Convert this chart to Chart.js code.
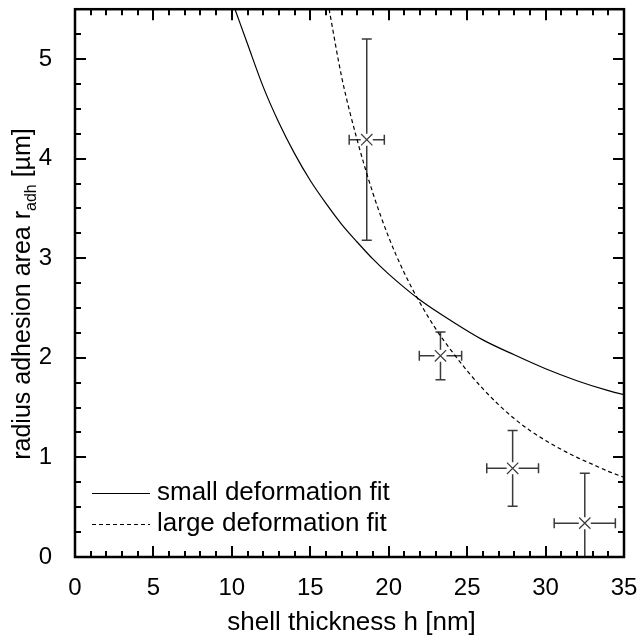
<!DOCTYPE html>
<html>
<head>
<meta charset="utf-8">
<script src="https://cdn.jsdelivr.net/npm/chart.js@4"></script>
<style>
  html, body { margin: 0; padding: 0; background: #fff; }
  #wrap { width: 639px; height: 643px; }
</style>
</head>
<body>
<div id="wrap"><canvas id="chart"></canvas></div>
<script>
// measured points with error bars
const thickness = [18.6, 23.3, 27.9, 32.5];
const radius = [4.19, 2.02, 0.89, 0.34];
const thicknessErr = [1.12, 1.35, 1.65, 1.95];
const radiusErr = [1.01, 0.24, 0.38, 0.5];

// fit curves
const smallFitH = [10.2, 11, 12, 13, 14, 15, 16, 17, 18, 19, 20, 22, 24, 26, 28, 30, 32, 34, 35];
const smallFitR = [5.5, 5.15, 4.72, 4.36, 4.05, 3.78, 3.55, 3.34, 3.16, 2.99, 2.84, 2.58, 2.37, 2.18, 2.03, 1.89, 1.77, 1.67, 1.63];
const largeFitH = [16.2, 17, 18, 19, 20, 21, 22, 23, 24, 25, 26, 27, 28, 29, 30, 31, 32, 33, 34, 35];
const largeFitR = [5.5, 4.82, 4.18, 3.65, 3.21, 2.85, 2.55, 2.29, 2.07, 1.87, 1.69, 1.53, 1.39, 1.27, 1.17, 1.08, 1.0, 0.93, 0.86, 0.8];

const legendLabels = ['small deformation fit', 'large deformation fit'];
const xTicks = [0, 5, 10, 15, 20, 25, 30, 35];
const yTicks = [0, 1, 2, 3, 4, 5];
const xMinorStep = 1;
const yMinorStep = 0.25;

const FONT = '"Liberation Sans", Arial, sans-serif';

const toXY = (xs, ys) => xs.map((v, i) => ({ x: v, y: ys[i] }));

const framePlugin = {
  id: 'frame',
  beforeDatasetsDraw(chart) {
    const { ctx, chartArea: a, scales: { x, y } } = chart;
    ctx.save();
    ctx.beginPath();
    ctx.rect(a.left, a.top, a.right - a.left, a.bottom - a.top);
    ctx.clip();
    ctx.strokeStyle = '#3a3a3a';
    ctx.lineWidth = 1.5;
    const gap = 6, cap = 5;
    thickness.forEach((h, i) => {
      const px = x.getPixelForValue(h);
      const py = y.getPixelForValue(radius[i]);
      const x0 = x.getPixelForValue(h - thicknessErr[i]);
      const x1 = x.getPixelForValue(h + thicknessErr[i]);
      const y0 = y.getPixelForValue(radius[i] - radiusErr[i]);
      const y1 = y.getPixelForValue(radius[i] + radiusErr[i]);
      ctx.beginPath();
      ctx.moveTo(x0, py); ctx.lineTo(px - gap, py);
      ctx.moveTo(px + gap, py); ctx.lineTo(x1, py);
      ctx.moveTo(x0, py - cap); ctx.lineTo(x0, py + cap);
      ctx.moveTo(x1, py - cap); ctx.lineTo(x1, py + cap);
      ctx.moveTo(px, y1); ctx.lineTo(px, py - gap);
      ctx.moveTo(px, py + gap); ctx.lineTo(px, y0);
      ctx.moveTo(px - cap, y0); ctx.lineTo(px + cap, y0);
      ctx.moveTo(px - cap, y1); ctx.lineTo(px + cap, y1);
      ctx.stroke();
    });
    ctx.restore();
  },
  afterDraw(chart) {
    const { ctx, chartArea: a, scales: { x, y } } = chart;
    ctx.save();
    ctx.strokeStyle = '#000';
    ctx.lineWidth = 2;
    ctx.beginPath();
    for (let v = x.min; v <= x.max + 1e-9; v += xMinorStep) {
      const px = Math.round(x.getPixelForValue(v));
      const len = xTicks.includes(v) ? 11 : 6;
      ctx.moveTo(px, a.bottom); ctx.lineTo(px, a.bottom - len);
      ctx.moveTo(px, a.top); ctx.lineTo(px, a.top + len);
    }
    for (let v = y.min; v <= y.max + 1e-9; v += yMinorStep) {
      const py = Math.round(y.getPixelForValue(v));
      const len = yTicks.includes(v) ? 11 : 6;
      ctx.moveTo(a.left, py); ctx.lineTo(a.left + len, py);
      ctx.moveTo(a.right, py); ctx.lineTo(a.right - len, py);
    }
    ctx.stroke();
    ctx.lineWidth = 2.5;
    ctx.strokeRect(a.left, a.top, a.right - a.left, a.bottom - a.top);

    // legend
    ctx.lineWidth = 1;
    ctx.fillStyle = '#000';
    ctx.font = '26px ' + FONT;
    ctx.textBaseline = 'middle';
    ctx.textAlign = 'left';
    const rows = [493, 524];
    chart.data.datasets.slice(0, 2).forEach((ds, i) => {
      ctx.setLineDash(ds.borderDash || []);
      ctx.beginPath();
      ctx.moveTo(92, rows[i] + 0.5); ctx.lineTo(150, rows[i] + 0.5);
      ctx.stroke();
      ctx.setLineDash([]);
      ctx.fillText(legendLabels[i], 157, rows[i]);
    });

    // x title
    ctx.textAlign = 'center';
    ctx.textBaseline = 'alphabetic';
    ctx.fillText('shell thickness h [nm]', (a.left + a.right) / 2 + 2, 630);

    // y title with subscript
    const p1 = 'radius adhesion area r', sub = 'adh', p2 = ' [\u00b5m]';
    ctx.font = '25px ' + FONT;
    const w1 = ctx.measureText(p1).width, w3 = ctx.measureText(p2).width;
    ctx.font = '16px ' + FONT;
    const w2 = ctx.measureText(sub).width;
    const total = w1 + w2 + w3;
    ctx.translate(30, 294);
    ctx.rotate(-Math.PI / 2);
    ctx.textAlign = 'left';
    let cx = -total / 2;
    ctx.font = '25px ' + FONT;
    ctx.fillText(p1, cx, 0);
    cx += w1;
    ctx.font = '16px ' + FONT;
    ctx.fillText(sub, cx, 6);
    cx += w2;
    ctx.font = '25px ' + FONT;
    ctx.fillText(p2, cx, 0);
    ctx.restore();
  }
};

new Chart(document.getElementById('chart'), {
  type: 'scatter',
  data: {
    datasets: [
      {
        label: legendLabels[0],
        type: 'line',
        data: toXY(smallFitH, smallFitR),
        borderColor: '#000',
        borderWidth: 1.2,
        pointRadius: 0,
        cubicInterpolationMode: 'monotone',
        fill: false
      },
      {
        label: legendLabels[1],
        type: 'line',
        data: toXY(largeFitH, largeFitR),
        borderColor: '#000',
        borderWidth: 1.2,
        borderDash: [4, 3],
        pointRadius: 0,
        cubicInterpolationMode: 'monotone',
        fill: false
      },
      {
        label: 'data',
        data: toXY(thickness, radius),
        pointStyle: 'crossRot',
        pointRadius: 8,
        pointBorderWidth: 1.2,
        borderColor: '#3a3a3a',
        backgroundColor: '#3a3a3a'
      }
    ]
  },
  plugins: [framePlugin],
  options: {
    responsive: true,
    maintainAspectRatio: false,
    animation: false,
    layout: { padding: { top: 7, right: 15, left: 0, bottom: 0 } },
    plugins: { legend: { display: false }, tooltip: { enabled: false } },
    scales: {
      x: {
        type: 'linear',
        min: 0,
        max: 35,
        grid: { display: false },
        border: { display: false },
        afterBuildTicks: s => { s.ticks = xTicks.map(v => ({ value: v })); },
        afterFit: s => { s.height = 86; s.paddingLeft = 0; s.paddingRight = 0; },
        ticks: { color: '#000', padding: 9, font: { family: FONT, size: 24 } }
      },
      y: {
        type: 'linear',
        min: 0,
        max: 5.5,
        grid: { display: false },
        border: { display: false },
        afterBuildTicks: s => { s.ticks = yTicks.map(v => ({ value: v })); },
        afterFit: s => { s.width = 75; s.paddingTop = 0; s.paddingBottom = 0; },
        ticks: { color: '#000', padding: 15, font: { family: FONT, size: 24 } }
      }
    }
  }
});
</script>
</body>
</html>
